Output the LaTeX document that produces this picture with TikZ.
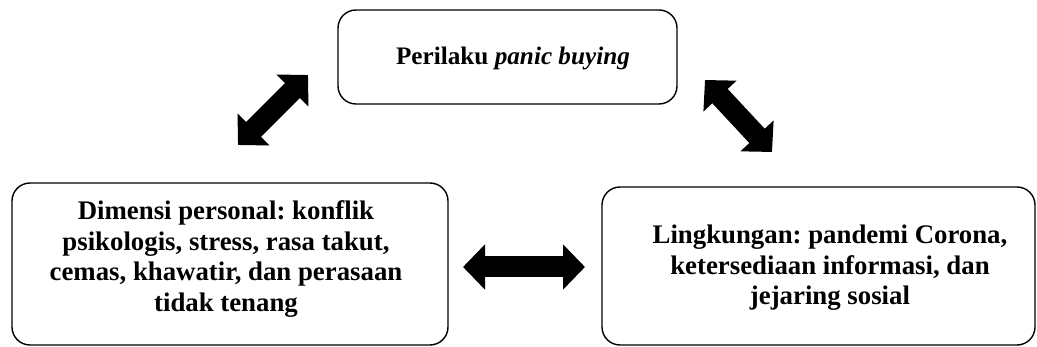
\documentclass[tikz,border=0pt]{standalone}
\usepackage{fontspec}
\setmainfont{Liberation Serif}
\usetikzlibrary{arrows.meta}
\frenchspacing
\begin{document}
\begin{tikzpicture}[x=1pt,y=-1pt,
  box/.style={draw=black, line width=1.4pt, rounded corners=18pt, inner sep=0pt},
  txt/.style={align=center, font=\fontsize{26.8}{30.5}\selectfont\bfseries, inner sep=0pt},
  fatarrow/.style={line width=21pt, {Triangle[length=22pt,width=44pt]}-{Triangle[length=22pt,width=44pt]}}]
  \useasboundingbox (0,0) rectangle (1037,347);
  % the three boxes
  \node[box, minimum width=339pt, minimum height=94pt] (top) at (507.5,57) {};
  \node[box, minimum width=436pt, minimum height=162pt] (pers) at (230,264) {};
  \node[box, minimum width=433pt, minimum height=158pt] (ling) at (818.5,266) {};
  % their texts
  \node[txt, font=\fontsize{25.2}{29}\selectfont\bfseries] (toptxt) at (513,58) {Perilaku \textit{panic buying}};
  \node[txt] (perstxt) at (226,259) {Dimensi personal: konflik\\psikologis, stress, rasa takut,\\cemas, khawatir, dan perasaan\\tidak tenang};
  \node[txt] (lingtxt) at (830,268) {Lingkungan: pandemi Corona,\\ketersediaan informasi, dan\\jejaring sosial};
  % ends of the double arrows
  \coordinate (a1s) at (238,145);
  \coordinate (a1e) at (308,75);
  \coordinate (a2s) at (705,80);
  \coordinate (a2e) at (772,152);
  \coordinate (a3s) at (463,267);
  \coordinate (a3e) at (585,267);
  \draw[fatarrow] (a1s) -- (a1e);
  \draw[fatarrow] (a2s) -- (a2e);
  \draw[fatarrow] (a3s) -- (a3e);
\end{tikzpicture}
\end{document}
